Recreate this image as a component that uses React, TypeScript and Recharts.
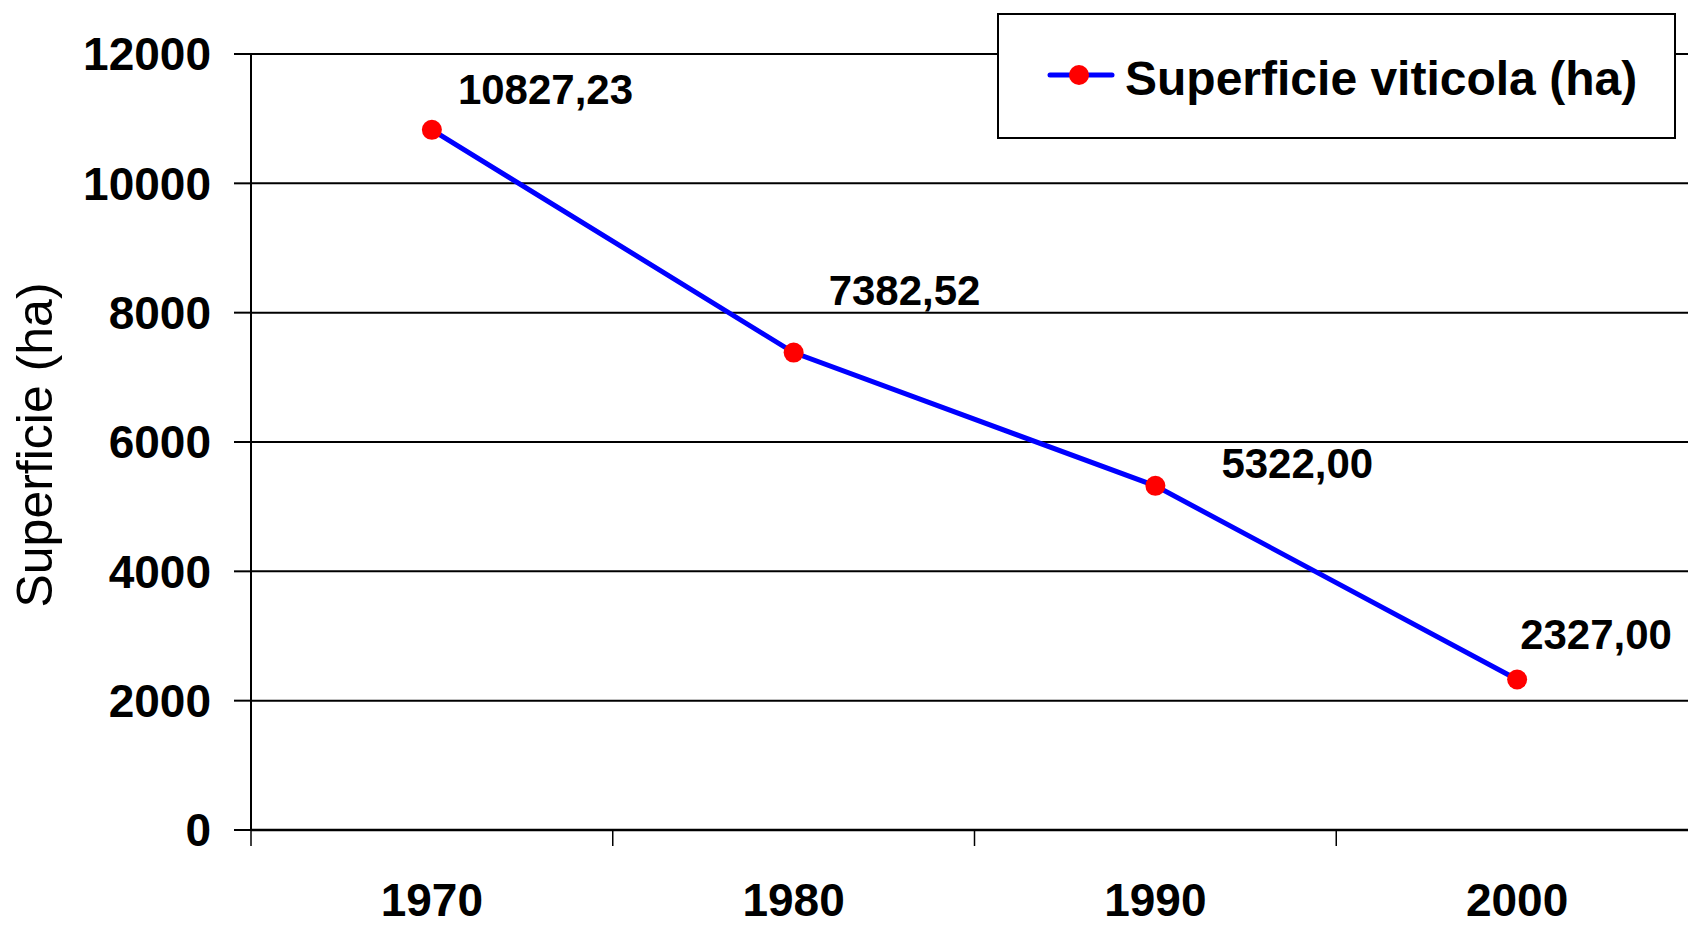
import React from "react";
import {
  LineChart,
  Line,
  XAxis,
  YAxis,
  CartesianGrid,
  Legend,
  LabelList,
} from "recharts";

// data
const YEARS = [1970, 1980, 1990, 2000];
const SUPERFICIE = [10827.23, 7382.52, 5322.0, 2327.0];
const Y_TICKS = [0, 2000, 4000, 6000, 8000, 10000, 12000];
// category boundaries (tick marks) + centres (labels)
const X_TICKS = [1965, 1970, 1975, 1980, 1985, 1990, 1995, 2000, 2005];
const SERIES_NAME = "Superficie viticola (ha)";
const Y_TITLE = "Superficie (ha)";

// value labels were dragged around by hand in the original, nudge per point
const LABEL_NUDGE = [
  [26, -26],
  [35, -48],
  [66, -8],
  [3, -31],
];

const FONT = '"Liberation Sans", Arial, Helvetica, sans-serif';

const chartData = YEARS.map((year, i) => ({ year, value: SUPERFICIE[i] }));

const formatValue = (v: number) => v.toFixed(2).replace(".", ",");

const YearTick = (props: any) => {
  const { x, y, payload } = props;
  if (YEARS.includes(payload.value)) {
    return (
      <text
        x={x}
        y={y + 86}
        textAnchor="middle"
        fontFamily={FONT}
        fontWeight="bold"
        fontSize={46}
        fill="#000"
      >
        {payload.value}
      </text>
    );
  }
  return <line x1={x} x2={x} y1={y} y2={y + 16} stroke="#000" strokeWidth={1.5} />;
};

const ValueLabel = (props: any) => {
  const vb = props.viewBox || {};
  const px = vb.x ?? props.x;
  const py = vb.y ?? props.y;
  const v = Number(props.value);
  const idx = SUPERFICIE.indexOf(v);
  const [dx, dy] = LABEL_NUDGE[idx] ?? [20, -20];
  return (
    <text
      x={px + dx}
      y={py + dy}
      textAnchor="start"
      fontFamily={FONT}
      fontWeight="bold"
      fontSize={42}
      fill="#000"
    >
      {formatValue(v)}
    </text>
  );
};

const YTitle = (props: any) => {
  const vb = props.viewBox || { x: 0, y: 0, height: 0 };
  const cx = vb.x + 52;
  const cy = vb.y + vb.height / 2 + 3;
  return (
    <text
      x={cx}
      y={cy}
      transform={`rotate(-90, ${cx}, ${cy})`}
      textAnchor="middle"
      fontFamily={FONT}
      fontSize={50}
      fill="#000"
    >
      {Y_TITLE}
    </text>
  );
};

const LegendBox = () => (
  <svg width={679} height={126} style={{ display: "block" }}>
    <rect x={1} y={1} width={677} height={124} fill="#fff" stroke="#000" strokeWidth={2} />
    <line x1={53} x2={115} y1={62} y2={62} stroke="#0000ff" strokeWidth={5} strokeLinecap="round" />
    <circle cx={82} cy={62} r={10} fill="#ff0000" />
    <text x={128} y={82} fontFamily={FONT} fontWeight="bold" fontSize={48} fill="#000">
      {SERIES_NAME}
    </text>
  </svg>
);

export default function App() {
  return (
    <div style={{ position: "relative", width: 1688, height: 926, overflow: "hidden", background: "#fff" }}>
      <style>{"body{margin:0}"}</style>
      <LineChart
        width={1720}
        height={926}
        data={chartData}
        margin={{ top: 54, right: 22, bottom: 0, left: 0 }}
      >
        <CartesianGrid horizontal vertical={false} stroke="#000" strokeWidth={2} />
        <XAxis
          dataKey="year"
          type="number"
          domain={[1965, 2005]}
          ticks={X_TICKS}
          interval={0}
          height={96}
          tickLine={false}
          tickSize={0}
          tickMargin={0}
          axisLine={{ stroke: "#000", strokeWidth: 2.5 }}
          tick={<YearTick />}
        />
        <YAxis
          type="number"
          domain={[0, 12000]}
          ticks={Y_TICKS}
          interval={0}
          width={251}
          tickSize={17}
          tickMargin={23}
          tickLine={{ stroke: "#000", strokeWidth: 2 }}
          axisLine={{ stroke: "#000", strokeWidth: 2 }}
          tick={{ fill: "#000", fontFamily: FONT, fontWeight: "bold", fontSize: 46 }}
          label={{ content: <YTitle /> }}
        />
        <Legend
          layout="vertical"
          align="center"
          verticalAlign="middle"
          content={<LegendBox />}
          wrapperStyle={{ left: 997, top: 13, width: 679, height: 126 }}
        />
        <Line
          dataKey="value"
          name={SERIES_NAME}
          stroke="#0000ff"
          strokeWidth={5}
          dot={{ r: 10, fill: "#ff0000", stroke: "none" }}
          activeDot={false}
          isAnimationActive={false}
        >
          <LabelList dataKey="value" content={<ValueLabel />} />
        </Line>
      </LineChart>
    </div>
  );
}
